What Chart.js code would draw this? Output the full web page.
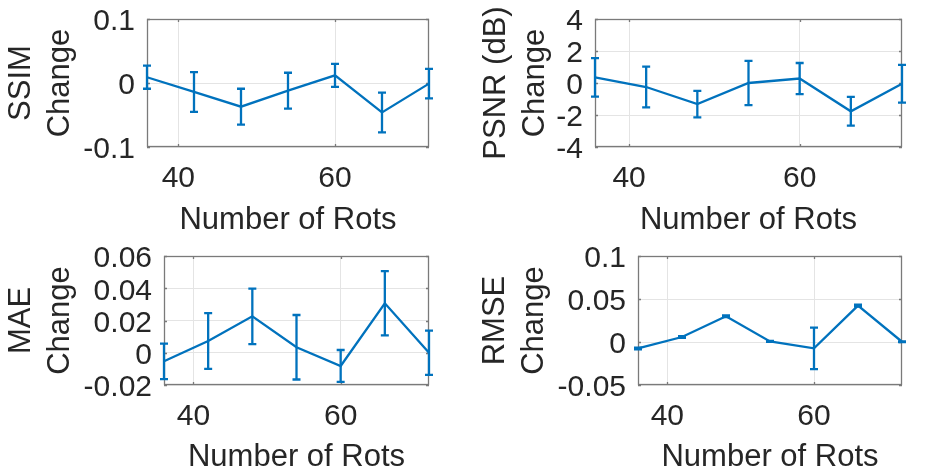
<!DOCTYPE html>
<html>
<head>
<meta charset="utf-8">
<script src="https://cdn.jsdelivr.net/npm/chart.js@4"></script>
<style>
body{margin:0;background:#fff;}
#wrap{position:relative;width:947px;height:474px;overflow:hidden;}
canvas{position:absolute;}
</style>
</head>
<body>
<div id="wrap">
<canvas id="c1" width="473" height="237" style="left:0;top:0"></canvas>
<canvas id="c2" width="474" height="237" style="left:473px;top:0"></canvas>
<canvas id="c3" width="473" height="237" style="left:0;top:237px"></canvas>
<canvas id="c4" width="474" height="237" style="left:473px;top:237px"></canvas>
</div>
<script>
// number of rots on x, change of each metric with its error
const rots=[36,42,48,54,60,66,72];
const xTicks=[40,60];

const ssim=[0.009,-0.014,-0.037,-0.012,0.012,-0.046,-0.001];
const ssimErr=[0.018,0.031,0.028,0.028,0.018,0.031,0.023];
const ssimTicks=[-0.1,0,0.1];

const psnr=[0.35,-0.25,-1.32,0.0,0.28,-1.77,-0.05];
const psnrErr=[1.2,1.27,0.83,1.38,0.97,0.9,1.18];
const psnrTicks=[-4,-2,0,2,4];

const mae=[-0.0053,0.0073,0.0226,0.0034,-0.0082,0.0307,0.0];
const maeErr=[0.011,0.0173,0.0172,0.02,0.0099,0.0199,0.0137];
const maeTicks=[-0.02,0,0.02,0.04,0.06];

const rmse=[-0.0075,0.0058,0.030,0.0007,-0.0074,0.0423,0.0003];
const rmseErr=[0.001,0.001,0.001,0.0005,0.0242,0.001,0.0005];
const rmseTicks=[-0.05,0,0.05,0.1];

const blue='#0072BD';
const textColor='#262626';
const boxColor='#7a7a7a';
const gridColor='#e4e4e4';
const font="'Liberation Sans', Arial, sans-serif";

// error bars drawn through the chart's own scales
const errorBars={
id:'errorBars',
afterDatasetsDraw(chart){
const ctx=chart.ctx;
const ds=chart.data.datasets[0];
const xs=chart.scales.x, ys=chart.scales.y;
ctx.save();
ctx.strokeStyle=blue;
ctx.lineWidth=2.3;
ds.data.forEach((p,i)=>{
const e=ds.errors[i];
const px=xs.getPixelForValue(p.x);
const top=ys.getPixelForValue(p.y+e);
const bot=ys.getPixelForValue(p.y-e);
ctx.beginPath();
ctx.moveTo(px,top);ctx.lineTo(px,bot);
ctx.moveTo(px-4,top);ctx.lineTo(px+4,top);
ctx.moveTo(px-4,bot);ctx.lineTo(px+4,bot);
ctx.stroke();
});
ctx.restore();
}
};

// matlab style box with small inward ticks
const axesBox={
id:'axesBox',
beforeDatasetsDraw(chart){
const ctx=chart.ctx;
const a=chart.chartArea;
const xs=chart.scales.x, ys=chart.scales.y;
ctx.save();
ctx.strokeStyle=boxColor;
ctx.lineWidth=1.3;
ctx.strokeRect(a.left+0.5,a.top+0.5,a.right-a.left-1,a.bottom-a.top-1);
ctx.beginPath();
xs.ticks.forEach(t=>{
const px=Math.round(xs.getPixelForValue(t.value))+0.5;
ctx.moveTo(px,a.bottom);ctx.lineTo(px,a.bottom-3);
ctx.moveTo(px,a.top);ctx.lineTo(px,a.top+3);
});
ys.ticks.forEach(t=>{
const py=Math.round(ys.getPixelForValue(t.value))+0.5;
ctx.moveTo(a.left,py);ctx.lineTo(a.left+3,py);
ctx.moveTo(a.right,py);ctx.lineTo(a.right-3,py);
});
ctx.stroke();
ctx.restore();
}
};

function makeChart(id,values,errs,yTicks,label,yWidth,rightPad,xHeight,titlePad){

new Chart(document.getElementById(id),{
type:'line',
data:{
datasets:[{
data:rots.map((r,i)=>({x:r,y:values[i]})),
errors:errs,
borderColor:blue,
borderWidth:2.3,
pointRadius:0,
tension:0,
clip:false
}]
},
options:{
responsive:false,
animation:false,
layout:{padding:{top:19,right:rightPad,bottom:0,left:0}},
plugins:{legend:{display:false},tooltip:{enabled:false}},
scales:{
x:{
type:'linear',
min:rots[0],
max:rots[rots.length-1],
afterBuildTicks:s=>{s.ticks=xTicks.map(v=>({value:v}));},
afterFit:s=>{s.height=xHeight;s.paddingLeft=0;s.paddingRight=0;},
grid:{color:gridColor,drawTicks:false},
border:{display:false},
ticks:{padding:14,color:textColor,maxRotation:0,autoSkip:false,
font:{family:font,size:30,lineHeight:1.2},
callback:v=>String(v)},
title:{display:true,text:'Number of Rots',color:textColor,
font:{family:font,size:31,lineHeight:1},padding:{top:0,bottom:1.5}}
},
y:{
min:yTicks[0],
max:yTicks[yTicks.length-1],
afterBuildTicks:s=>{s.ticks=yTicks.map(v=>({value:v}));},
afterFit:s=>{s.width=yWidth;s.paddingTop=0;s.paddingBottom=0;},
grid:{color:gridColor,drawTicks:false},
border:{display:false},
ticks:{padding:12,labelOffset:3,color:textColor,autoSkip:false,
font:{family:font,size:30,lineHeight:1.2},
callback:v=>String(v)},
title:{display:true,text:[label,'Change'],color:textColor,
font:{family:font,size:31,lineHeight:1.25},padding:{top:titlePad,bottom:0}}
}
}
},
plugins:[axesBox,errorBars]
});

}

makeChart('c1',ssim,ssimErr,ssimTicks,'SSIM',147,44,90,2);
makeChart('c2',psnr,psnrErr,psnrTicks,'PSNR (dB)',122,45,90,4);
makeChart('c3',mae,maeErr,maeTicks,'MAE',164,44,89,2);
makeChart('c4',rmse,rmseErr,rmseTicks,'RMSE',165,45,89,3);
</script>
</body>
</html>
